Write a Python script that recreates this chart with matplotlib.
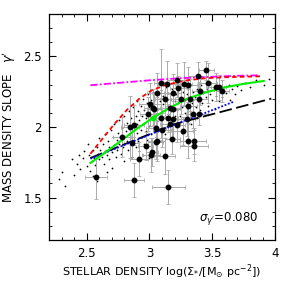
import numpy as np
import matplotlib
matplotlib.use('Agg')
import matplotlib.pyplot as plt
from matplotlib.ticker import MultipleLocator

# lens sample (black points with errors)
lens_x = [2.574, 2.877, 3.150, 2.917, 2.970, 3.010, 3.020, 3.120, 2.780, 2.860,
          2.845, 2.877, 2.985, 3.004, 3.025, 3.057, 3.094, 3.137, 3.222, 3.275,
          3.310, 3.390, 3.453, 3.469, 3.530, 3.550, 3.580, 3.394, 3.320, 3.250,
          3.185, 3.124, 3.040, 3.090, 3.150, 3.190, 3.216, 3.050, 3.100, 3.180,
          3.057, 3.050, 3.270, 3.296, 3.349, 3.304, 3.357, 3.355, 3.394, 3.163,
          3.230, 3.400, 3.310, 3.163, 3.190]
lens_y = [1.643, 1.624, 1.577, 1.776, 1.866, 1.800, 1.823, 1.795, 1.927, 1.885,
          2.000, 2.013, 2.089, 2.160, 2.136, 2.241, 2.309, 2.307, 2.333, 2.307,
          2.295, 2.359, 2.400, 2.312, 2.281, 2.279, 2.253, 2.197, 2.200, 2.200,
          2.241, 2.200, 2.124, 2.065, 2.065, 2.053, 2.012, 1.990, 1.980, 1.917,
          1.900, 1.890, 1.971, 2.053, 2.089, 1.900, 1.900, 1.866, 2.093, 2.018,
          2.272, 2.253, 2.150, 2.136, 2.124]
lens_xerr = [0.09, 0.08, 0.13, 0.07, 0.06, 0.07, 0.05, 0.08, 0.07, 0.06,
             0.07, 0.08, 0.06, 0.09, 0.07, 0.08, 0.06, 0.07, 0.08, 0.06,
             0.07, 0.08, 0.06, 0.07, 0.08, 0.06, 0.05, 0.07, 0.08, 0.09,
             0.07, 0.08, 0.06, 0.07, 0.08, 0.06, 0.07, 0.08, 0.07, 0.06,
             0.07, 0.06, 0.08, 0.07, 0.06, 0.06, 0.09, 0.11, 0.07, 0.08,
             0.07, 0.06, 0.07, 0.08, 0.06]
lens_yerr = [0.15, 0.12, 0.12, 0.12, 0.10, 0.12, 0.10, 0.13, 0.14, 0.11,
             0.22, 0.14, 0.12, 0.15, 0.13, 0.14, 0.24, 0.16, 0.12, 0.15,
             0.13, 0.10, 0.07, 0.14, 0.10, 0.09, 0.08, 0.12, 0.14, 0.11,
             0.13, 0.12, 0.11, 0.14, 0.10, 0.13, 0.12, 0.10, 0.12, 0.11,
             0.14, 0.12, 0.10, 0.12, 0.10, 0.12, 0.09, 0.11, 0.08, 0.10,
             0.09, 0.10, 0.12, 0.10, 0.11]

# simulated galaxies (small dots)
sim_x = [2.28, 2.30, 2.33, 2.38, 2.40, 2.42, 2.44, 2.45,
         2.47, 2.48, 2.50, 2.51, 2.52, 2.53, 2.54, 2.55, 2.56, 2.57, 2.58, 2.59, 2.60, 2.60, 2.55, 2.58,
         2.61, 2.62, 2.63, 2.64, 2.65, 2.65, 2.66, 2.67, 2.68, 2.68, 2.69, 2.70, 2.70, 2.71, 2.72, 2.72, 2.73, 2.74, 2.74, 2.75, 2.66,
         2.76, 2.76, 2.77, 2.78, 2.78, 2.79, 2.80, 2.80, 2.81, 2.82, 2.82, 2.83, 2.84, 2.84, 2.85, 2.85, 2.86, 2.87, 2.87, 2.88, 2.89, 2.89, 2.90, 2.90, 2.90,
         2.91, 2.91, 2.92, 2.92, 2.93, 2.93, 2.94, 2.94, 2.95, 2.95, 2.96, 2.96, 2.97, 2.97, 2.98, 2.98, 2.99, 2.99, 3.00, 3.00, 3.01, 3.01, 3.02, 3.02, 3.03, 3.03, 3.04, 3.04, 3.05, 3.05, 2.95, 3.00,
         3.06, 3.06, 3.07, 3.07, 3.08, 3.08, 3.09, 3.09, 3.10, 3.10, 3.11, 3.11, 3.12, 3.12, 3.13, 3.13, 3.14, 3.14, 3.15, 3.15, 3.16, 3.16, 3.17, 3.17, 3.18, 3.18, 3.19, 3.19, 3.20, 3.20,
         3.21, 3.22, 3.22, 3.23, 3.24, 3.24, 3.25, 3.26, 3.26, 3.27, 3.28, 3.28, 3.29, 3.30, 3.30, 3.31, 3.32, 3.32, 3.33, 3.34, 3.35, 3.35, 3.36, 3.37, 3.38, 3.38, 3.39, 3.40, 3.40,
         3.41, 3.42, 3.43, 3.44, 3.45, 3.46, 3.47, 3.48, 3.49, 3.50, 3.51, 3.52, 3.53, 3.54, 3.55, 3.56, 3.58, 3.59,
         3.61, 3.63, 3.64, 3.66, 3.68, 3.70, 3.73, 3.76, 3.80, 3.85, 3.91, 3.95]
sim_y = [1.63, 1.68, 1.58, 1.77, 1.66, 1.74, 1.80, 1.70,
         1.78, 1.83, 1.72, 1.88, 1.80, 1.69, 1.76, 1.84, 1.78, 1.73, 1.86, 1.81, 1.77, 1.92, 1.65, 1.62,
         1.84, 1.79, 1.88, 1.74, 1.83, 1.95, 1.80, 1.90, 1.77, 1.86, 1.98, 1.82, 1.71, 1.93, 1.87, 2.02, 1.79, 1.91, 1.84, 1.96, 1.68,
         1.88, 2.05, 1.81, 1.99, 1.93, 1.86, 2.08, 1.76, 1.97, 1.90, 2.03, 1.84, 2.11, 1.95, 1.88, 2.06, 1.79, 2.00, 2.14, 1.93, 2.08, 1.86, 2.02, 1.96, 2.18,
         1.90, 2.11, 2.05, 1.83, 1.98, 2.15, 2.08, 1.93, 2.20, 2.02, 1.88, 2.12, 2.06, 1.97, 2.17, 1.91, 2.09, 2.23, 2.01, 2.14, 1.95, 2.19, 2.07, 1.86, 2.12, 2.25, 2.00, 2.16, 1.93, 2.09, 1.80, 1.78,
         2.21, 2.04, 2.13, 1.97, 2.18, 2.08, 2.26, 1.90, 2.11, 2.02, 2.16, 2.22, 2.06, 1.95, 2.13, 2.28, 2.19, 2.01, 2.09, 2.24, 2.15, 1.98, 2.11, 2.20, 2.05, 2.27, 2.14, 1.92, 2.18, 2.08,
         2.23, 2.12, 2.01, 2.17, 2.29, 2.08, 2.20, 2.14, 1.96, 2.25, 2.10, 2.19, 2.05, 2.23, 2.15, 2.28, 2.11, 2.20, 2.02, 2.17, 2.25, 2.09, 2.21, 2.14, 2.27, 2.06, 2.19, 2.23, 2.12,
         2.30, 2.17, 2.24, 2.09, 2.21, 2.27, 2.15, 2.23, 2.31, 2.19, 2.26, 2.13, 2.22, 2.29, 2.18, 2.25, 2.21, 2.28,
         2.24, 2.30, 2.19, 2.27, 2.23, 2.29, 2.26, 2.31, 2.28, 2.33, 2.30, 2.34]

# model curves
magenta_x = [2.53, 2.80, 3.00, 3.25, 3.50, 3.70, 3.88]
magenta_y = [2.295, 2.315, 2.330, 2.345, 2.355, 2.362, 2.365]
red_x = [2.53, 2.62, 2.72, 2.82, 2.92, 3.02, 3.14, 3.30, 3.45, 3.62, 3.88]
red_y = [1.81, 1.91, 2.02, 2.12, 2.20, 2.26, 2.30, 2.330, 2.345, 2.352, 2.358]
green_x = [2.53, 2.65, 2.80, 2.92, 3.03, 3.15, 3.30, 3.45, 3.60, 3.75, 3.91]
green_y = [1.745, 1.82, 1.92, 2.00, 2.065, 2.13, 2.20, 2.245, 2.28, 2.305, 2.325]
blue_x = [2.53, 3.10, 3.67]
blue_y = [1.775, 1.98, 2.178]
black_x = [2.53, 3.20, 3.97]
black_y = [1.78, 2.02, 2.20]

fig = plt.figure(figsize=(2.83, 2.83), dpi=100)
ax = fig.add_axes([0.173, 0.152, 0.799, 0.799])

ax.scatter(sim_x, sim_y, s=1.6, c='black', linewidths=0, zorder=1)
ax.errorbar(lens_x, lens_y, xerr=lens_xerr, yerr=lens_yerr, fmt='none',
            ecolor='#aaaaaa', elinewidth=0.7, capsize=1.3, capthick=0.6, zorder=2)
ax.plot(lens_x, lens_y, 'o', color='black', ms=3.2, zorder=5)

ax.plot(magenta_x, magenta_y, color='magenta', lw=1.3, dashes=[4, 1.2, 1, 1.2], zorder=3)
ax.plot(red_x, red_y, color='red', lw=1.3, dashes=[2.5, 1.8], zorder=3)
ax.plot(black_x, black_y, color='black', lw=1.3, dashes=[7, 2.5], zorder=3)
ax.plot(blue_x, blue_y, color='blue', lw=1.3, dashes=[1, 1], zorder=3)
ax.plot(green_x, green_y, color='#00ee00', lw=1.5, zorder=4)
ax.plot([3.03], [2.062], 'o', color='#00ee00', ms=3.2, zorder=6)

ax.set_xlim(2.2, 4.0)
ax.set_ylim(1.2, 2.8)
ax.xaxis.set_minor_locator(MultipleLocator(0.1))
ax.yaxis.set_minor_locator(MultipleLocator(0.1))
ax.set_xticks([2.5, 3, 3.5, 4])
ax.set_xticklabels(['2.5', '3', '3.5', '4'])
ax.set_yticks([1.5, 2, 2.5])
ax.set_yticklabels(['1.5', '2', '2.5'])
ax.tick_params(which='both', direction='in', top=True, right=True, labelsize=8.5, pad=5)
ax.tick_params(which='major', length=5, width=0.8)
ax.tick_params(which='minor', length=2.5, width=0.6)
for sp in ax.spines.values():
    sp.set_linewidth(0.9)

ax.set_xlabel(r'STELLAR DENSITY log($\Sigma_{*}$/[M$_{\odot}$ pc$^{-2}$])', fontsize=8, labelpad=2)
ax.set_ylabel(r"MASS DENSITY SLOPE   $\gamma'$", fontsize=8.5, labelpad=4)
ax.text(3.87, 1.35, r"$\sigma_{\gamma'}$=0.080", fontsize=8.5, ha='right', va='center')

fig.savefig('out.png', dpi=100)
